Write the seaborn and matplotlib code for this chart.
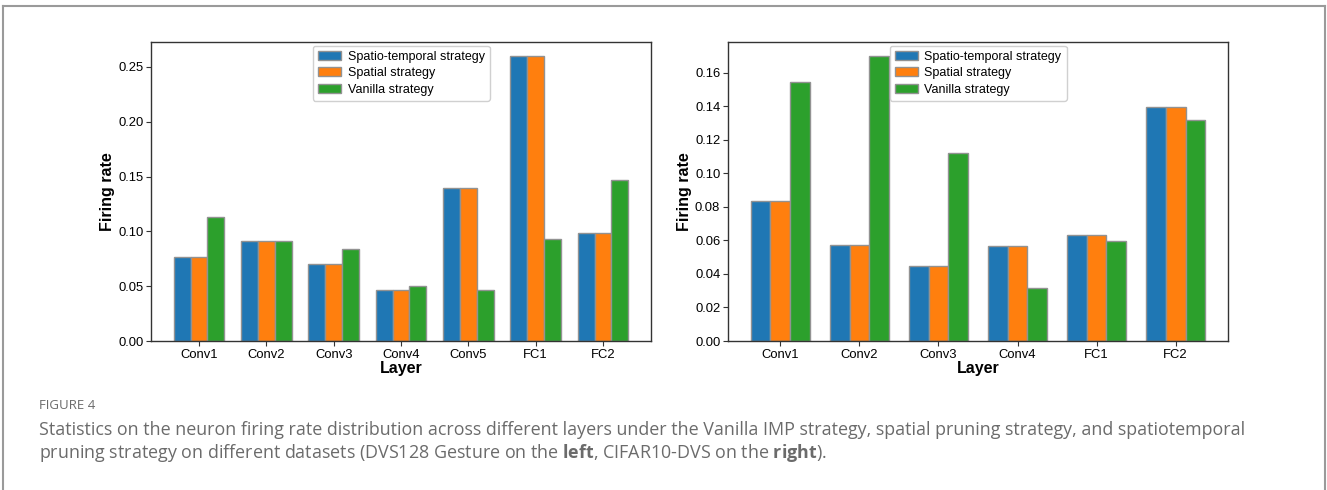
import matplotlib
matplotlib.use("Agg")
import matplotlib.pyplot as plt
from matplotlib.lines import Line2D
import pandas as pd
import seaborn as sns

# Firing rates per layer for each pruning strategy
strategies = ["Spatio-temporal strategy", "Spatial strategy", "Vanilla strategy"]

gesture_layers = ["Conv1", "Conv2", "Conv3", "Conv4", "Conv5", "FC1", "FC2"]
gesture_spatiotemporal = [0.0766, 0.0912, 0.0706, 0.0462, 0.1399, 0.2597, 0.0985]
gesture_spatial = [0.0766, 0.0912, 0.0706, 0.0462, 0.1399, 0.2597, 0.0985]
gesture_vanilla = [0.1134, 0.0909, 0.0839, 0.0505, 0.0462, 0.0934, 0.1469]

cifar_layers = ["Conv1", "Conv2", "Conv3", "Conv4", "FC1", "FC2"]
cifar_spatiotemporal = [0.0835, 0.0574, 0.0449, 0.0568, 0.0630, 0.1395]
cifar_spatial = [0.0835, 0.0574, 0.0449, 0.0568, 0.0630, 0.1395]
cifar_vanilla = [0.1542, 0.1697, 0.1119, 0.0314, 0.0594, 0.1316]

palette = ["#1f77b4", "#ff7f0e", "#2ca02c"]

plt.rcParams["font.family"] = ["Liberation Sans", "DejaVu Sans"]
plt.rcParams["mathtext.fontset"] = "custom"
plt.rcParams["mathtext.rm"] = "Open Sans"
plt.rcParams["mathtext.bf"] = "Open Sans:bold"


def long_table(layers, series):
    rows = []
    for name, vals in zip(strategies, series):
        for layer, v in zip(layers, vals):
            rows.append({"Layer": layer, "rate": v, "strategy": name})
    return pd.DataFrame(rows)


W, H = 1327, 490
fig = plt.figure(figsize=(W / 100, H / 100), dpi=100)
fig.patch.set_facecolor("white")

ax1 = fig.add_axes([151 / W, 1 - 341 / H, 500 / W, 299 / H])
ax2 = fig.add_axes([728 / W, 1 - 341 / H, 500 / W, 299 / H])

panels = [
    (ax1, gesture_layers, [gesture_spatiotemporal, gesture_spatial, gesture_vanilla]),
    (ax2, cifar_layers, [cifar_spatiotemporal, cifar_spatial, cifar_vanilla]),
]

for ax, layers, series in panels:
    df = long_table(layers, series)
    sns.barplot(data=df, x="Layer", y="rate", hue="strategy", hue_order=strategies,
                order=layers, palette=palette, width=0.75, edgecolor="#929292",
                linewidth=1.0, saturation=1, ax=ax, errorbar=None)
    n = len(layers)
    pad = 0.05 * (n - 1 + 0.75)
    ax.set_xlim(-0.375 - pad, n - 1 + 0.375 + pad)
    top = max(max(s) for s in series)
    ax.set_ylim(0, top * 1.05)
    ax.set_xlabel("Layer", fontsize=11.5, fontweight="bold", labelpad=0)
    ax.set_ylabel("Firing rate", fontsize=11.5, fontweight="bold", labelpad=2)
    ax.yaxis.set_major_formatter(matplotlib.ticker.FormatStrFormatter("%.2f"))
    ax.tick_params(axis="both", labelsize=9.4, length=3.5, width=0.8, color="#333333", pad=2)
    for sp in ax.spines.values():
        sp.set_color("#333333")
        sp.set_linewidth(1.0)
    ax.legend(loc="upper center", fontsize=9, handlelength=1.9, handleheight=0.7,
              handletextpad=0.5, borderpad=0.4, labelspacing=0.36, framealpha=1,
              edgecolor="#d0d0d0", fancybox=True, borderaxespad=0.3)

ax1.set_yticks([0.0, 0.05, 0.10, 0.15, 0.20, 0.25])
ax2.set_yticks([0.0, 0.02, 0.04, 0.06, 0.08, 0.10, 0.12, 0.14, 0.16])

# Outer frame of the figure panel
frame_kw = dict(color="#9a9a9a", linewidth=1.5, transform=fig.transFigure)
fig.add_artist(Line2D([3 / W, 1325 / W], [1 - 6 / H, 1 - 6 / H], **frame_kw))
fig.add_artist(Line2D([3 / W, 3 / W], [0, 1 - 6 / H], **frame_kw))
fig.add_artist(Line2D([1325 / W, 1325 / W], [0, 1 - 6 / H], **frame_kw))

# Caption
cap_color = "#6b6b6b"
fig.text(39 / W, 1 - 409 / H, "FIGURE 4", fontsize=9.5, color=cap_color,
         family="Open Sans", va="baseline")
fig.text(39 / W, 1 - 435 / H,
         "Statistics on the neuron firing rate distribution across different layers under the "
         "Vanilla IMP strategy, spatial pruning strategy, and spatiotemporal",
         fontsize=12.9, color=cap_color, family="Open Sans", va="baseline")
fig.text(39 / W, 1 - 458 / H,
         r"pruning strategy on different datasets (DVS128 Gesture on the $\mathbf{left}$, "
         r"CIFAR10-DVS on the $\mathbf{right}$).",
         fontsize=12.9, color=cap_color, family="Open Sans", va="baseline")

fig.savefig("out.png", dpi=100)
